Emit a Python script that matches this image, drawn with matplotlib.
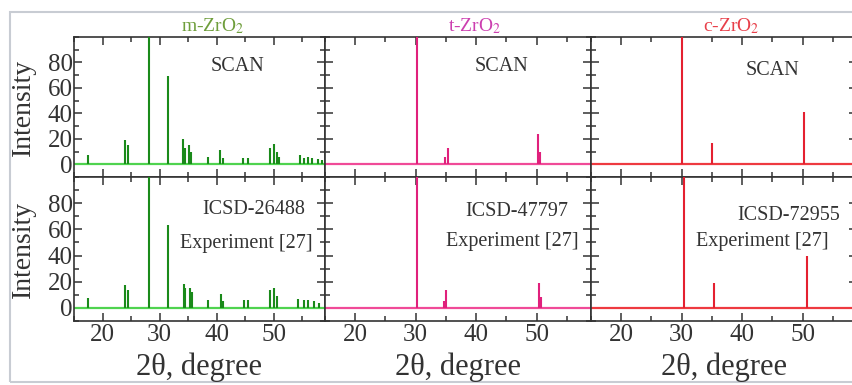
# -*- coding: utf-8 -*-
import numpy as np
import matplotlib.pyplot as plt
from matplotlib.ticker import MultipleLocator, FixedLocator
from matplotlib.patches import Rectangle

plt.rcParams['font.family'] = ['Liberation Serif', 'DejaVu Serif']
plt.rcParams['mathtext.fontset'] = 'stix'

#---    Peak lists (2theta in degree, relative intensity)
m_scan_pos = [17.5, 23.9, 24.4, 28.2, 31.4, 34.1, 34.4, 35.2, 35.5, 38.5, 40.6, 41.1,
              44.7, 45.5, 49.4, 50.1, 50.6, 51.0, 54.6, 55.3, 56.0, 56.8, 57.7, 58.5]
m_scan_int = [7, 19, 15, 100, 69, 20, 13, 15, 10, 6, 11.5, 5,
              5, 5, 13, 16, 10, 6, 7, 5, 6, 5, 4, 3]
m_icsd_pos = [17.5, 24.0, 24.4, 28.2, 31.5, 34.2, 34.5, 35.3, 35.6, 38.5, 40.7, 41.2,
              44.8, 45.5, 49.3, 50.1, 50.6, 54.3, 55.3, 56.0, 57.0, 58.0]
m_icsd_int = [7.5, 17.5, 14, 100, 63, 18, 15, 15, 12, 6, 11, 5,
              6, 6, 14, 15, 9, 7, 6, 6, 5, 4]

t_scan_pos = [30.2, 34.8, 35.3, 50.3, 50.6]
t_scan_int = [100, 6, 12.5, 24, 10]
t_icsd_pos = [30.2, 34.7, 35.0, 50.4, 50.7]
t_icsd_int = [100, 5, 14, 19, 8]

c_scan_pos = [30.0, 35.0, 50.3]
c_scan_int = [100, 16.5, 41]
c_icsd_pos = [30.4, 35.3, 50.7]
c_icsd_int = [100, 19, 40]

titles = ['m-ZrO$_2$', 't-ZrO$_2$', 'c-ZrO$_2$']
icsd_names = ['ICSD-26488', 'ICSD-47797', 'ICSD-72955']
title_colors = ['#6f9e3c', '#cc3fb0', '#e8404a']
peak_colors = ['#1a8a1a', '#e0207c', '#e42030']
base_colors = ['#4fd34f', '#f04a98', '#ee3a40']

scan_pos = [m_scan_pos, t_scan_pos, c_scan_pos]
scan_int = [m_scan_int, t_scan_int, c_scan_int]
icsd_pos = [m_icsd_pos, t_icsd_pos, c_icsd_pos]
icsd_int = [m_icsd_int, t_icsd_int, c_icsd_int]

W, H = 852, 385
fig = plt.figure(figsize=(W / 100, H / 100), dpi=100)

# light grey frame around the figure
fig.patches.append(Rectangle((10 / W, 1 - 382 / H), 860 / W, 370 / H, transform=fig.transFigure,
                             fill=False, edgecolor='#c8ccd3', linewidth=1.5))

cols = [(74, 325), (325, 591), (591, 857)]
rows = [(37, 177), (177, 321)]

scan_xy = [(0.65, 0.786), (0.665, 0.786), (0.684, 0.764)]
icsd_xy = [(0.717, 0.771), (0.722, 0.757), (0.744, 0.736)]
exp_xy = [(0.685, 0.535), (0.703, 0.549), (0.643, 0.549)]
title_x = [0.55, 0.564, 0.526]

txt_c = '#333333'

for j, (x0, x1) in enumerate(cols):
    for i, (y0, y1) in enumerate(rows):
        ax = fig.add_axes([x0 / W, 1 - y1 / H, (x1 - x0) / W, (y1 - y0) / H])
        if i == 0:
            pos, inten = scan_pos[j], scan_int[j]
        else:
            pos, inten = icsd_pos[j], icsd_int[j]
        ax.axhline(0, color=base_colors[j], linewidth=1.6, zorder=2)
        ax.vlines(pos, 0, inten, color=peak_colors[j], linewidth=1.5, zorder=3)

        ax.set_xlim(15, 59)
        ax.set_ylim(-10, 100)
        ax.xaxis.set_major_locator(MultipleLocator(10))
        ax.xaxis.set_minor_locator(MultipleLocator(5))
        ax.yaxis.set_major_locator(FixedLocator([0, 20, 40, 60, 80]))
        ax.yaxis.set_minor_locator(MultipleLocator(10))
        ax.tick_params(which='both', direction='in', top=True, right=True, colors='#333333',
                       labelsize=18, width=1.1)
        ax.tick_params(which='major', length=6)
        ax.tick_params(which='minor', length=3.5)
        ax.tick_params(axis='y', pad=1)
        ax.tick_params(axis='x', pad=2)
        for s in ax.spines.values():
            s.set_color('#333333')
            s.set_linewidth(1.2)
        if i == 0:
            ax.set_xticklabels([])
        if j > 0:
            ax.set_yticklabels([])

        if i == 0:
            ax.text(scan_xy[j][0], scan_xy[j][1], 'SCAN', transform=ax.transAxes,
                    ha='center', va='center', fontsize=14.5, color=txt_c)
            ax.text(title_x[j], 1.043, titles[j], transform=ax.transAxes,
                    ha='center', va='baseline', fontsize=14, color=title_colors[j])
        else:
            ax.text(icsd_xy[j][0], icsd_xy[j][1], icsd_names[j], transform=ax.transAxes,
                    ha='center', va='center', fontsize=14.5, color=txt_c)
            ax.text(exp_xy[j][0], exp_xy[j][1], 'Experiment [27]', transform=ax.transAxes,
                    ha='center', va='center', fontsize=14.5, color=txt_c)
            fig.text((x0 + x1) / 2 / W, 1 - 367 / H, '2θ, degree', ha='center', va='center',
                     fontsize=22, color=txt_c)
        if j == 0:
            fig.text(23 / W, 1 - (y0 + y1) / 2 / H, 'Intensity', rotation=90, ha='center',
                     va='center', fontsize=20, color=txt_c)

plt.savefig('out.png', dpi=100)
